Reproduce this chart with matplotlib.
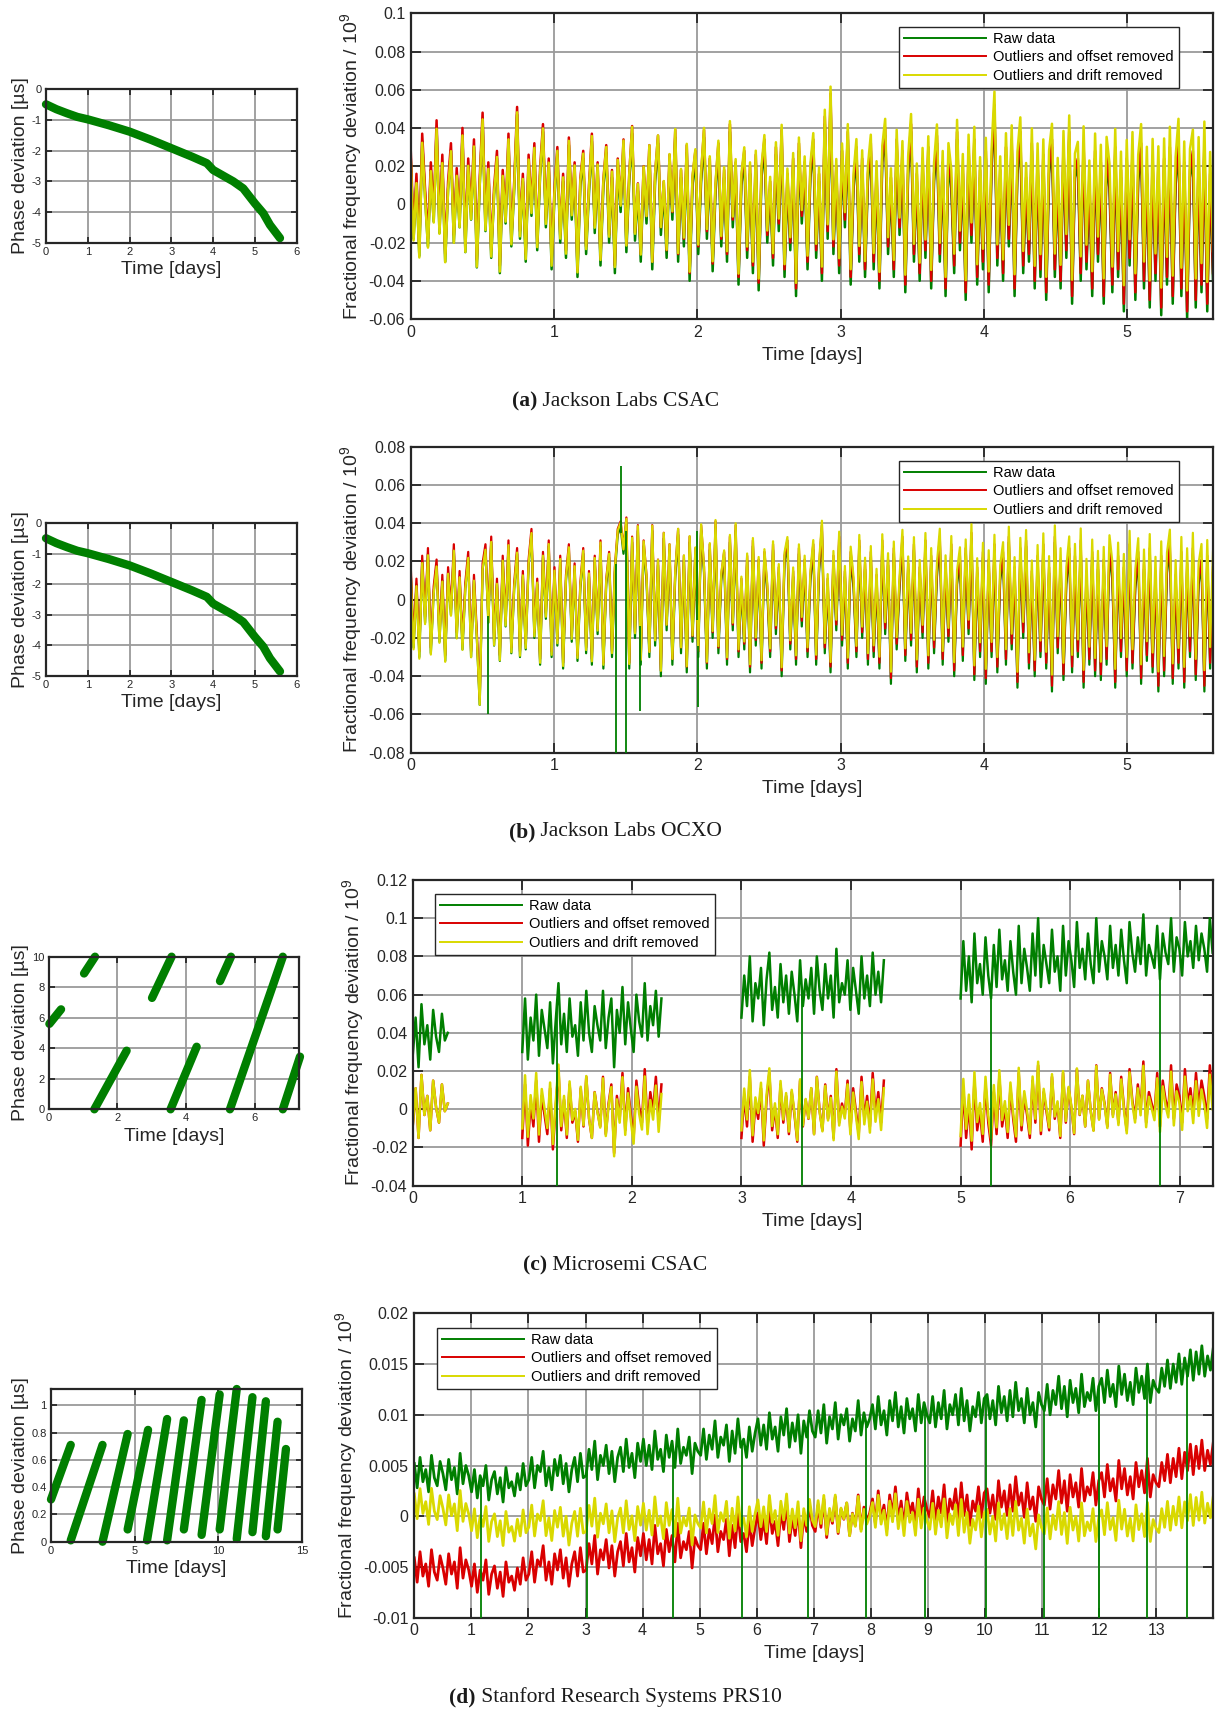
import numpy as np
import matplotlib.pyplot as plt

W, H = 1219, 1713
plt.rcParams['font.family'] = ['Liberation Sans', 'DejaVu Sans']
plt.rcParams['mathtext.default'] = 'regular'

GREEN = '#007f00'
RED = '#d90000'
YELLOW = '#d9d900'
GRID = '#9a9a9a'
DARK = '#262626'

labels = ['Raw data', 'Outliers and offset removed', 'Outliers and drift removed']
captions = [('(a)', 'Jackson Labs CSAC'), ('(b)', 'Jackson Labs OCXO'),
            ('(c)', 'Microsemi CSAC'), ('(d)', 'Stanford Research Systems PRS10')]

# ---- phase plots (days, us) ----
phase_ab_t = [0.0, 0.25, 0.5, 0.75, 1.0, 1.5, 2.0, 2.5, 3.0, 3.5, 3.85, 4.0, 4.48, 4.72, 5.0, 5.2, 5.36, 5.6]
phase_ab_y = [-0.49, -0.65, -0.78, -0.9, -0.98, -1.17, -1.38, -1.64, -1.92, -2.2, -2.41, -2.63, -3.0, -3.23, -3.72, -4.04, -4.42, -4.85]

# each piece: t0, t1, y0, y1
phase_c = [(0.02, 0.36, 5.6, 6.55), (1.03, 1.35, 8.9, 10.0), (1.33, 2.27, 0.0, 3.84),
           (3.01, 3.58, 7.3, 10.0), (3.55, 4.31, 0.0, 4.1), (4.99, 5.31, 8.4, 10.0),
           (5.28, 6.82, 0.0, 10.0), (6.82, 7.32, 0.0, 3.45)]
phase_d = [(0.0, 1.18, 0.31, 0.71), (1.18, 3.08, 0.01, 0.71), (3.08, 4.58, 0.0, 0.79),
           (4.58, 5.8, 0.09, 0.82), (5.74, 6.94, 0.01, 0.90), (6.94, 7.94, 0.01, 0.89),
           (7.94, 9.0, 0.09, 1.04), (9.0, 10.08, 0.05, 1.08), (10.08, 11.1, 0.09, 1.12),
           (11.1, 12.04, 0.02, 1.06), (12.04, 12.84, 0.07, 1.03), (12.84, 13.54, 0.04, 0.88),
           (13.54, 14.04, 0.09, 0.68)]

# ---- frequency data (a, b, c in 1e-3; d in 1e-4) ----
raw_a = [25, -18, 12, -27, 33, 4, -22, 18, -9, 40, -15, 22, -30, 8, 28, -20, 15, -12, 36, -25,
         20, -8, 30, -33, 10, 44, -14, 18, -28, 5, 24, -36, 14, -10, 33, -22, 8, 47, -18, 12,
         -30, 22, -6, 28, -24, 15, 38, -12, 20, -34, 4, 26, -20, 12, -28, 31, -8, 18, -38, 10,
         24, -26, 6, 33, -15, 18, -32, 9, 27, -20, 14, -36, 20, -4, 30, -25, 12, 37, -19, 7,
         -30, 16, -10, 27, -34, 12, 32, -16, 8, -28, 22, -8, 35, -30, 14, -22, 27, -40, 10, 24,
         -26, 12, 35, -18, 20, -35, 6, 28, -22, 14, -30, 38, -12, 18, -42, 10, 24, -28, 16, -36,
         22, -45, 14, 30, -20, 8, -32, 26, -14, 35, -38, 12, -24, 20, -48, 28, -10, 18, -34, 14,
         30, -28, 12, -40, 42, -18, 54, -26, 16, -36, 24, -12, 34, -42, 8, 26, -30, 20, -38, 12,
         28, -34, 14, -44, 22, 36, -26, 10, -38, 30, -16, 24, -46, 16, 38, -30, 12, -40, 20, -28,
         26, -44, 12, 32, -30, 18, -48, 22, 8, -36, 34, -24, 16, -50, 26, -20, 30, -42, 14, -34,
         24, -46, 18, 48, -32, 14, -40, 26, -22, 30, -48, 16, 34, -36, 10, -30, 28, -44, 20, -38,
         22, -50, 16, 30, -38, 12, -44, 26, -28, 34, -52, 14, 20, -40, 28, -34, 10, -48, 24, -30,
         18, -52, 22, 8, -46, 26, -38, 14, -56, 20, -32, 24, -50, 12, 28, -44, 16, -54, 20, -40,
         16, -58, 20, -42, 26, -52, 10, 30, -48, 18, -60, 14, 24, -54, 20, -46, 28, -56, 12, -40]
offset_a = 4.0
drift_a = [-1.0, 15.5]
spikes_a_t, spikes_a_v = [], []

raw_b = [15, -25, 8, -30, 20, -12, 24, -28, 4, 18, -22, 10, -32, 14, -8, 26, -20, 12, -26, 6,
         22, -30, 10, -20, -55, 16, 26, -12, 30, -24, 8, -32, 20, -14, 28, -28, 6, 24, -30, 12,
         -26, 18, 34, -20, 8, -34, 22, -10, 28, -30, 14, -24, 20, -36, 10, 26, -22, 16, -32, 6,
         24, -28, 12, -34, 20, -18, 28, -36, 8, 22, -30, 14, 34, 38, 24, 40, -36, 30, -20, 36,
         -34, 28, 10, -30, 36, -24, 18, -40, 32, -16, 26, -34, 12, 34, -28, 20, -38, 30, -22, 24,
         -30, 36, 14, -36, 26, -20, 38, -28, 10, 22, -34, 30, -16, 36, -30, 8, -26, 20, -38, 28,
         -24, 18, -36, 22, 4, -30, 26, -18, 14, -40, 20, 28, -26, 12, -34, 24, -14, 18, -30, 10,
         26, -34, 14, 36, -28, 8, -38, 20, -16, 30, -24, 12, -36, 22, 6, -30, 28, -20, 16, -34,
         22, -30, 10, -36, 28, -18, 18, -44, 24, -26, 6, 30, -32, 16, -24, 26, -38, 14, -20, 28,
         -36, 20, -28, 12, 30, -34, 16, -22, 26, -40, 8, 20, -32, 24, -18, 32, -42, 14, -30, 22,
         -44, 18, -30, 26, -38, 10, 22, -34, 30, -26, 14, -46, 24, -20, 28, -36, 12, -40, 20, -30,
         26, -36, 14, -48, 30, -28, 18, -42, 8, 24, -38, 20, -30, 28, -46, 12, -34, 22, -40, 16,
         -42, 18, -34, 24, 10, -46, 20, -30, 14, -40, 26, -36, 6, 22, -44, 16, -32, 24, -38, 12,
         -48, 20, -40, 14, 26, -44, 10, -36, 22, -46, 16, -30, 24, -42, 8, 18, -48, 20, -36, 14]
offset_b = 3.0
drift_b = [-1.0, 11.3]
spikes_b_t = [0.54, 1.43, 1.47, 1.50, 1.60, 2.00, 2.005]
spikes_b_v = [-60, -95, 70, -95, -58, 36, -56]

seg_c = [(0.0, 0.32), (1.0, 2.27), (3.0, 4.3), (5.0, 7.3)]
raw_c = [
    [28, 48, 22, 55, 34, 44, 26, 52, 38, 30, 50, 36, 40],
    [30, 58, 26, 48, 36, 60, 28, 52, 42, 32, 56, 24, 46, 66, 34, 50, 30, 58, 38, 44,
     28, 56, 36, 62, 40, 30, 54, 44, 36, 62, 32, 48, 58, 22, 52, 40, 64, 34, 56, 42,
     30, 60, 46, 38, 66, 36, 54, 44, 62, 38, 58],
    [48, 70, 54, 80, 46, 66, 58, 74, 44, 68, 82, 52, 64, 48, 76, 56, 70, 50, 72, 60,
     46, 78, 54, 68, 58, 74, 50, 80, 62, 52, 76, 58, 70, 48, 84, 56, 66, 60, 78, 52,
     74, 62, 50, 80, 58, 70, 54, 82, 60, 72, 56, 78],
    [58, 88, 62, 80, 56, 92, 66, 76, 60, 90, 70, 58, 86, 64, 94, 68, 78, 62, 88, 72,
     60, 96, 66, 84, 74, 62, 92, 70, 100, 64, 86, 76, 66, 94, 72, 80, 62, 96, 70, 88,
     78, 64, 98, 74, 84, 68, 92, 76, 66, 100, 72, 88, 80, 68, 96, 74, 86, 70, 94, 78,
     66, 98, 82, 72, 90, 76, 102, 70, 86, 80, 74, 96, 68, 92, 82, 76, 100, 72, 90, 84,
     70, 98, 80, 88, 74, 96, 78, 92, 84, 72, 100, 82],
]
offset_c = [37, 45, 63, 77]
drift_c = [(37, 37), (40, 50), (59, 67), (72, 82)]
spikes_c_t = [1.32, 3.55, 5.28, 6.82]
spikes_c_v = [-45, -45, -45, -45]

raw_d = [52, 28, 58, 34, 46, 24, 60, 38, 30, 54, 42, 26, 56, 36, 48, 22, 62, 32, 50, 40,
         24, 46, 18, 40, 30, 50, 16, 36, 44, 22, 38, 14, 48, 28, 34, 20, 42, 26, 52, 30,
         36, 58, 28, 50, 44, 64, 30, 48, 26, 56, 40, 60, 32, 52, 24, 46, 58, 34, 62, 38,
         40, 66, 46, 74, 36, 60, 50, 70, 42, 64, 34, 58, 68, 44, 76, 48, 62, 38, 72, 54,
         76, 50, 70, 46, 84, 56, 66, 44, 80, 58, 74, 48, 86, 52, 68, 60, 78, 42, 72, 64,
         60, 86, 56, 80, 66, 94, 58, 78, 70, 90, 54, 84, 62, 96, 68, 76, 58, 88, 64, 82,
         96, 70, 90, 66, 102, 76, 88, 64, 98, 80, 106, 68, 92, 74, 100, 62, 94, 78, 104, 84,
         78, 104, 82, 110, 72, 98, 86, 112, 76, 100, 90, 106, 74, 96, 84, 114, 80, 102, 88, 96,
         110, 86, 118, 90, 104, 80, 114, 94, 122, 88, 108, 82, 116, 96, 106, 84, 120, 92, 112, 100,
         92, 118, 88, 112, 96, 124, 86, 110, 100, 120, 90, 126, 94, 114, 84, 108, 98, 122, 92, 116,
         120, 96, 114, 90, 128, 102, 118, 94, 124, 98, 132, 104, 116, 92, 126, 100, 112, 88, 122, 110,
         104, 130, 100, 124, 110, 138, 106, 128, 98, 134, 112, 126, 102, 140, 108, 122, 114, 136, 104, 128,
         136, 112, 144, 118, 130, 108, 148, 120, 140, 114, 132, 110, 146, 122, 138, 116, 150, 112, 134, 126,
         122, 146, 128, 154, 126, 150, 132, 160, 130, 156, 138, 164, 134, 162, 140, 168, 138, 158, 144, 166]
offset_d = -93
drift_d = [-30, -146]
spikes_d_t = [1.17, 3.02, 4.53, 5.75, 6.90, 7.91, 8.94, 10.02, 11.04, 12.0, 12.83, 13.54]
spikes_d_v = [-105] * 12

fig = plt.figure(figsize=(W / 100, H / 100), dpi=100)


def box(x0, y0, x1, y1):
    return fig.add_axes([x0 / W, 1 - y1 / H, (x1 - x0) / W, (y1 - y0) / H])


def style(ax, xt, yt, fs, tl, pad):
    ax.set_xticks(xt)
    ax.set_yticks(yt)
    ax.set_xticklabels([f'{v:g}' for v in np.round(xt, 4)])
    ax.set_yticklabels([f'{v:g}' for v in np.round(yt, 4)])
    ax.grid(True, color=GRID, lw=1.3)
    ax.set_axisbelow(True)
    ax.tick_params(direction='in', length=tl, width=1.3, color=DARK, labelcolor=DARK,
                   top=True, right=True, labelsize=fs, pad=pad)
    for s in ax.spines.values():
        s.set_color(DARK)
        s.set_linewidth(1.6)


def main_panel(rect, t, g, r, yl, scale, st, sv, xlim, ylim, xt, yt, leg, lw):
    ax = box(*rect)
    g = np.array(g, float)
    ax.plot(t, g * scale, color=GREEN, lw=lw)
    ax.plot(t, np.array(r) * scale, color=RED, lw=lw)
    ax.plot(t, np.array(yl) * scale, color=YELLOW, lw=lw)
    # raw outliers: thin excursions out of the band (removed from the other series)
    if len(st):
        ok = np.isfinite(g)
        base = np.interp(st, t[ok], g[ok])
        ax.vlines(st, base * scale, np.array(sv) * scale, color=GREEN, lw=1.3, zorder=3)
    ax.set_xlim(*xlim)
    ax.set_ylim(*ylim)
    style(ax, xt, yt, 11.5, 7, 4)
    ax.set_xlabel('Time [days]', fontsize=14, color=DARK, labelpad=5)
    ax.set_ylabel('Fractional frequency deviation / 10$^9$', fontsize=14, color=DARK, labelpad=3)
    hs = [plt.Line2D([], [], color=c, lw=1.4) for c in (GREEN, RED, YELLOW)]
    ax.legend(hs, labels, loc='upper left', bbox_to_anchor=(leg[0] / W, 1 - leg[1] / H),
              bbox_transform=fig.transFigure, borderaxespad=0, fancybox=False,
              edgecolor=DARK, framealpha=1, fontsize=10.5, handlelength=5.6,
              handletextpad=0.5, labelspacing=0.3, borderpad=0.35)
    return ax


def phase_panel(rect, pieces, xlim, ylim, xt, yt):
    ax = box(*rect)
    for p in pieces:
        ax.plot(p[0], p[1], color=GREEN, lw=6, solid_capstyle='round', clip_on=False)
    ax.set_xlim(*xlim)
    ax.set_ylim(*ylim)
    style(ax, xt, yt, 8, 4, 3)
    ax.set_xlabel('Time [days]', fontsize=14, color=DARK, labelpad=3)
    ax.set_ylabel('Phase deviation [µs]', fontsize=14, color=DARK, labelpad=2)
    return ax


# (a)
t_a = np.linspace(0, 5.6, len(raw_a))
ra = np.array(raw_a, float)
main_panel((410.7, 13.3, 1213, 319), t_a, ra, ra + offset_a, ra + np.interp(t_a, [0, 5.6], drift_a), 1e-3,
           spikes_a_t, spikes_a_v, (0, 5.6), (-0.06, 0.1), range(0, 6),
           np.arange(-0.06, 0.101, 0.02), (899, 27), 1.8)
phase_panel((46, 89.3, 296.7, 242.7), [(phase_ab_t, phase_ab_y)], (0, 6), (-5, 0),
            range(0, 7), range(-5, 1))

# (b)
t_b = np.linspace(0, 5.6, len(raw_b))
rb = np.array(raw_b, float)
main_panel((410.7, 446.7, 1213, 752.7), t_b, rb, rb + offset_b, rb + np.interp(t_b, [0, 5.6], drift_b), 1e-3,
           spikes_b_t, spikes_b_v, (0, 5.6), (-0.08, 0.08), range(0, 6),
           np.arange(-0.08, 0.081, 0.02), (899, 461), 1.6)
phase_panel((46, 523.3, 296.7, 676), [(phase_ab_t, phase_ab_y)], (0, 6), (-5, 0),
            range(0, 7), range(-5, 1))

# (c)
tc, gc, rc, yc = [], [], [], []
for (s, e), vals, off, dr in zip(seg_c, raw_c, offset_c, drift_c):
    tt = np.linspace(s, e, len(vals))
    v = np.array(vals, float)
    tc += list(tt) + [e + 0.3]
    gc += list(v) + [np.nan]
    rc += list(v - off) + [np.nan]
    yc += list(v - np.interp(tt, [s, e], dr)) + [np.nan]
main_panel((412.7, 880, 1212.6, 1185.7), np.array(tc), gc, rc, yc, 1e-3,
           spikes_c_t, spikes_c_v, (0, 7.3), (-0.04, 0.12), range(0, 8),
           np.arange(-0.04, 0.121, 0.02), (435, 894), 1.8)
phase_panel((48.7, 956.7, 299.3, 1109.3), [((p[0], p[1]), (p[2], p[3])) for p in phase_c],
            (0, 7.3), (0, 10), [0, 2, 4, 6], range(0, 11, 2))

# (d)
t_d = np.linspace(0, 14, len(raw_d))
rd = np.array(raw_d, float)
main_panel((414.3, 1313.3, 1213.3, 1617.7), t_d, rd, rd + offset_d, rd + np.interp(t_d, [0, 14], drift_d), 1e-4,
           spikes_d_t, spikes_d_v, (0, 14), (-0.01, 0.02), range(0, 14),
           np.arange(-0.01, 0.0201, 0.005), (437, 1328), 2.0)
phase_panel((51, 1389, 302, 1541.7), [((p[0], p[1]), (p[2], p[3])) for p in phase_d],
            (0, 15), (0, 1.12), [0, 5, 10, 15], [0, 0.2, 0.4, 0.6, 0.8, 1])

# captions: bold tag + plain text, centred as a whole
cap_y = [401, 832, 1265, 1697]
cap_fs = 15.5
for (tag, txt), cy in zip(captions, cap_y):
    probe = fig.text(615 / W, 1 - cy / H, tag + ' ' + txt, fontsize=cap_fs, family='Liberation Serif',
                     ha='center', va='center', alpha=0)
    fig.canvas.draw()
    bb = probe.get_window_extent()
    t2 = fig.text(bb.x0 / W, 1 - cy / H, tag, fontsize=cap_fs, family='Liberation Serif',
                  weight='bold', ha='left', va='center', color='#1a1a1a')
    bb2 = t2.get_window_extent(renderer=fig.canvas.get_renderer())
    fig.text(bb2.x1 / W, 1 - cy / H, ' ' + txt, fontsize=cap_fs, family='Liberation Serif',
             ha='left', va='center', color='#1a1a1a')

fig.savefig('out.png', dpi=100)
